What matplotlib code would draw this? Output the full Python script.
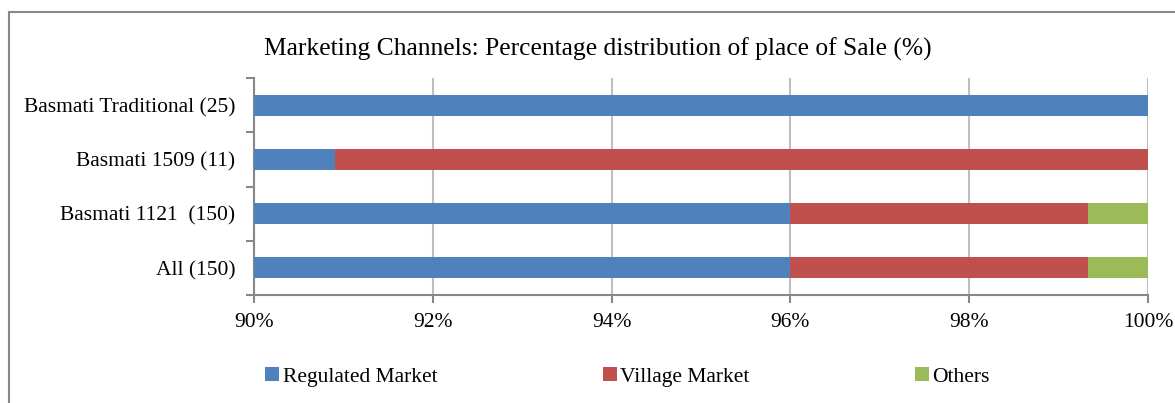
import numpy as np
import matplotlib.pyplot as plt
from matplotlib.patches import Rectangle

categories = ["All (150)", "Basmati 1121  (150)", "Basmati 1509 (11)", "Basmati Traditional (25)"]
regulated = [96.0, 96.0, 90.91, 100.0]
village = [3.33, 3.33, 9.09, 0.0]
others = [0.67, 0.67, 0.0, 0.0]
xticks = [90, 92, 94, 96, 98, 100]

plt.rcParams['font.family'] = ['Liberation Serif', 'DejaVu Serif']

fig = plt.figure(figsize=(11.75, 4.03), dpi=100)
ax = fig.add_axes([254 / 1175, 1 - 295 / 403, 894 / 1175, 217 / 403])

y = np.arange(len(categories))
reg = np.array(regulated)
vil = np.array(village)
oth = np.array(others)
h = 0.39
ax.barh(y, reg, height=h, color="#4F81BD", label="Regulated Market", zorder=3)
ax.barh(y, vil, left=reg, height=h, color="#C0504D", label="Village Market", zorder=3)
ax.barh(y, oth, left=reg + vil, height=h, color="#9BBB59", label="Others", zorder=3)

ax.set_xlim(90, 100)
ax.set_ylim(-0.5, len(categories) - 0.5)
ax.set_xticks(xticks)
ax.set_xticklabels([f"{t}%" for t in xticks], fontsize=15.5)
ax.set_yticks(y)
ax.set_yticklabels(categories, fontsize=15.5)
ax.set_yticks(np.arange(-0.5, len(categories), 1), minor=True)
ax.tick_params(axis='y', which='major', length=0, pad=13.5)
ax.tick_params(axis='y', which='minor', length=6, color="#888888", width=1.5)
ax.tick_params(axis='x', length=6, color="#888888", width=1.5, pad=7)
ax.grid(axis='x', color="#BFBFBF", linewidth=1.5, zorder=0)
for s in ["top", "right"]:
    ax.spines[s].set_visible(False)
for s in ["left", "bottom"]:
    ax.spines[s].set_color("#888888")
    ax.spines[s].set_linewidth(1.5)

fig.text(264 / 1175, 1 - 49 / 403, "Marketing Channels: Percentage distribution of place of Sale (%)",
         fontsize=18.4, va="center", ha="left")

fig.legend(loc="center left", bbox_to_anchor=(246 / 1175, 1 - 377 / 403), ncol=3, frameon=False,
           fontsize=15.5, handlelength=0.65, handleheight=0.65, handletextpad=0.15, columnspacing=7.7)

fig.add_artist(Rectangle((9 / 1175, -0.05), 1.1, 1 - 12 / 403 + 0.05, transform=fig.transFigure,
                         fill=False, edgecolor="#888888", linewidth=1.5))

fig.savefig("out.png", dpi=100)
